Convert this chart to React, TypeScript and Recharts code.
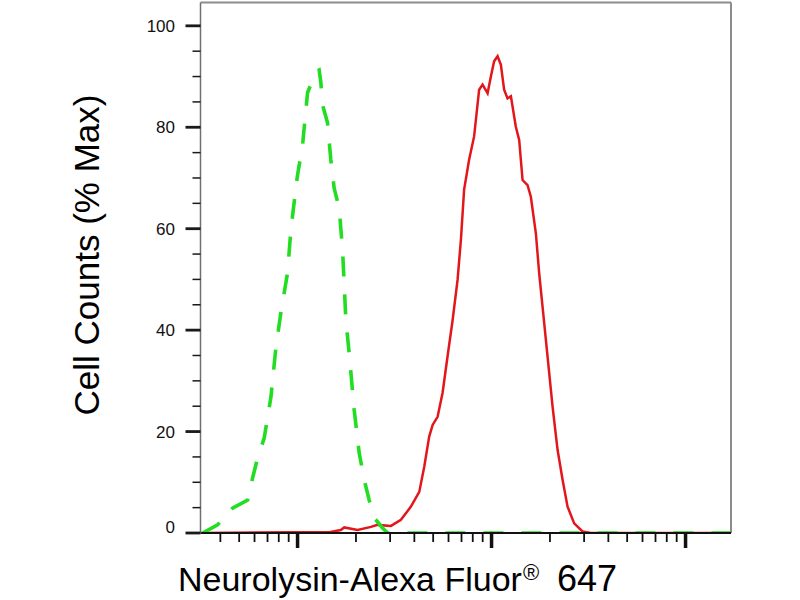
import { Line, LineChart, ReferenceLine, XAxis, YAxis } from "recharts";

// fluorescence intensity (log scale)
const X_MIN = 31.6;
const X_MAX = 17150;
const Y_MAX = 104.6;

const X_TICKS = [
  40, 50, 60, 70, 80, 90, 100,
  200, 300, 400, 500, 600, 700, 800, 900, 1000,
  2000, 3000, 4000, 5000, 6000, 7000, 8000, 9000, 10000,
];
const X_MAJOR = [100, 1000, 10000];
const Y_TICKS = [0, 5, 10, 15, 20, 25, 30, 35, 40, 45, 50, 55, 60, 65, 70, 75, 80, 85, 90, 95, 100];

// isotype control (green dashed)
const CONTROL_X = [
  32.4, 38.7, 46.2, 55.3, 58.6, 62.2, 67.3, 72.9, 77.3, 82.0, 88.8, 92.4, 98.0, 100,
  106.1, 112.6, 124.3, 129.2, 131.9, 134.5, 142.7, 148.4, 154.4, 163.9, 170.6, 177.4,
  184.5, 195.8, 207.8, 220.5, 233.9, 248.2, 274.2, 291.0, 340, 1100, 17000,
];
const CONTROL_Y = [
  0, 1.6, 4.9, 6.5, 10.8, 14.8, 18.7, 26.8, 36.5, 43.4, 51.3, 59.8, 68, 70.6,
  76.5, 86.8, 91, 91.3, 88.8, 84.4, 80.9, 73.6, 68, 64, 55.8, 42,
  35.5, 24.3, 15.8, 10.5, 6.5, 3, 1, 0, 0, 0, 0,
];

// Neurolysin stained sample (red)
const SAMPLE_X = [
  32, 148, 167, 174, 204, 239, 258, 303, 341, 384, 424, 450, 477, 497, 527, 559,
  593, 630, 668, 695, 722, 766, 813, 863, 899, 954, 992, 1031, 1074, 1117, 1161,
  1209, 1258, 1334, 1388, 1445, 1533, 1594, 1692, 1760, 1832, 1944, 2063, 2189,
  2323, 2465, 2666, 2945, 3250, 17150,
];
const SAMPLE_Y = [
  0, 0.2, 0.6, 1.1, 0.6, 1.2, 1.6, 1.4, 2.6, 5.2, 8.1, 13.1, 19, 21.3, 22.9, 27.6,
  34.8, 42, 49.9, 57.8, 67.7, 73.6, 78.2, 87.4, 88.4, 86.7, 90, 93, 94, 92.3, 87.4,
  85.7, 86.1, 80.1, 77.5, 69.6, 68.6, 66.3, 59.1, 51.2, 44.6, 34.8, 24.9, 16.4,
  10.5, 5.2, 1.9, 0.3, 0, 0,
];

const control = CONTROL_X.map((x, i) => ({ x, y: CONTROL_Y[i] }));
const sample = SAMPLE_X.map((x, i) => ({ x, y: SAMPLE_Y[i] }));

const PLOT_LEFT = 200.5;
const PLOT_BOTTOM = 533;
const FONT = "'Liberation Sans', Arial, sans-serif";

function YTick({ y, payload }: { y?: number; payload?: { value: number } }) {
  if (y == null || !payload) return null;
  const v = payload.value;
  const major = v % 20 === 0;
  return (
    <g>
      <line
        x1={PLOT_LEFT - (major ? 15 : 8)}
        x2={PLOT_LEFT}
        y1={y}
        y2={y}
        stroke="#1a1a1a"
        strokeWidth={major ? 2.8 : 1.5}
      />
      {major && (
        <text
          x={175}
          y={y + (v === 0 ? -6 : 0)}
          dy="0.36em"
          textAnchor="end"
          fontFamily={FONT}
          fontSize={17}
          fill="#111"
        >
          {v}
        </text>
      )}
    </g>
  );
}

function XTick({ x, payload }: { x?: number; payload?: { value: number } }) {
  if (x == null || !payload) return null;
  const major = X_MAJOR.includes(payload.value);
  return (
    <line
      x1={x}
      x2={x}
      y1={PLOT_BOTTOM}
      y2={PLOT_BOTTOM + (major ? 15 : 9)}
      stroke="#111"
      strokeWidth={major ? 3.5 : 1.8}
    />
  );
}

export default function App() {
  return (
    <div style={{ position: "absolute", left: 0, top: 0, width: 800, height: 600, background: "#fff" }}>
      <LineChart width={800} height={600} margin={{ top: 2.5, right: 69, left: 140.5, bottom: 47 }}>
        <XAxis
          type="number"
          dataKey="x"
          scale="log"
          domain={[X_MIN, X_MAX]}
          allowDataOverflow
          ticks={X_TICKS}
          interval={0}
          height={20}
          tick={<XTick />}
          tickLine={false}
          axisLine={{ stroke: "#111", strokeWidth: 2.2 }}
        />
        <YAxis
          type="number"
          domain={[0, Y_MAX]}
          allowDataOverflow
          ticks={Y_TICKS}
          interval={0}
          width={60}
          tick={<YTick />}
          tickLine={false}
          axisLine={{ stroke: "#707070", strokeWidth: 1.5 }}
        />
        <ReferenceLine y={Y_MAX} stroke="#8c8c8c" strokeWidth={2} />
        <ReferenceLine x={X_MAX} stroke="#8c8c8c" strokeWidth={2} />
        <Line
          data={sample}
          dataKey="y"
          type="linear"
          stroke="#e3161c"
          strokeWidth={2.5}
          dot={false}
          isAnimationActive={false}
        />
        <Line
          data={control}
          dataKey="y"
          type="linear"
          stroke="#22dd22"
          strokeWidth={3.6}
          strokeDasharray="20 18"
          dot={false}
          isAnimationActive={false}
        />
      </LineChart>
      <svg
        width={800}
        height={600}
        style={{ position: "absolute", left: 0, top: 0, pointerEvents: "none" }}
      >
        <text
          transform="translate(99, 255) rotate(-90)"
          textAnchor="middle"
          fontFamily={FONT}
          fontSize={35}
          fill="#000"
        >
          Cell Counts (% Max)
        </text>
        <text fontFamily={FONT} fill="#000">
          <tspan x={178} y={591} fontSize={34}>Neurolysin-Alexa Fluor</tspan>
          <tspan x={523} y={580} fontSize={22}>®</tspan>
          <tspan x={557} y={591} fontSize={36}>647</tspan>
        </text>
      </svg>
    </div>
  );
}
